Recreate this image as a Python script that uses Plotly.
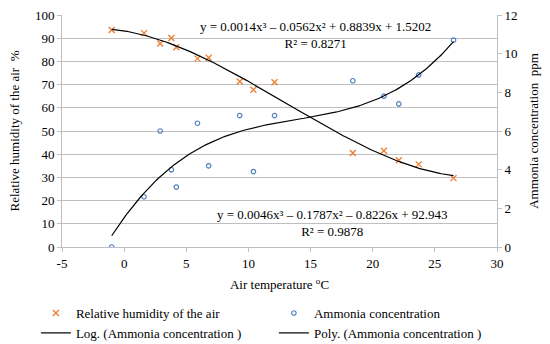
import numpy as np
import plotly.graph_objects as go

# Data
temperature = [-1.0, 1.6, 2.9, 3.8, 4.2, 5.9, 6.8, 9.3, 10.4, 12.1, 18.4, 20.9, 22.1, 23.7, 26.5]
humidity = [93.5, 92.2, 87.7, 90.1, 86.1, 81.2, 81.6, 71.3, 67.8, 71.0, 40.5, 41.5, 37.4, 35.6, 29.7]
ammonia = [0.0, 2.6, 6.0, 4.0, 3.1, 6.4, 4.2, 6.8, 3.9, 6.8, 8.6, 7.8, 7.4, 8.9, 10.7]

x_ticks = [-5, 0, 5, 10, 15, 20, 25, 30]
x_tick_text = ["-5", "0", "5", "10", "15", "20", "25", "30"]
y_left_ticks = [0, 10, 20, 30, 40, 50, 60, 70, 80, 90, 100]
y_right_ticks = [0, 2, 4, 6, 8, 10, 12]

eq_ammonia = "y = 0.0014x³ – 0.0562x² + 0.8839x + 1.5202<br>R² = 0.8271"
eq_humidity = "y = 0.0046x³ – 0.1787x² – 0.8226x + 92.943<br>R² = 0.9878"

FONT = "Times New Roman, Liberation Serif, DejaVu Serif, serif"
ORANGE = "#ED7D31"
BLUE = "#4F81BD"
GRID = "#BFBFBF"

# Trend lines (3rd-order least-squares fits, as in the source chart)
xs = np.linspace(min(temperature), max(temperature), 200)
hum_fit = np.polyval(np.polyfit(temperature, humidity, 3), xs)
amm_fit = np.polyval(np.polyfit(temperature, ammonia, 3), xs)

fig = go.Figure()
fig.add_trace(go.Scatter(
    x=temperature, y=humidity, mode="markers", name="Relative humidity of the air",
    marker=dict(symbol="x-thin", size=6, line=dict(color=ORANGE, width=1.3), color=ORANGE),
))
fig.add_trace(go.Scatter(
    x=temperature, y=ammonia, mode="markers", name="Ammonia concentration",
    yaxis="y2",
    marker=dict(symbol="circle-open", size=4.5, line=dict(color=BLUE, width=1.2), color=BLUE),
))
fig.add_trace(go.Scatter(
    x=xs, y=hum_fit, mode="lines", name="Log. (Ammonia concentration )",
    line=dict(color="black", width=1.2),
))
fig.add_trace(go.Scatter(
    x=xs, y=amm_fit, mode="lines", name="Poly. (Ammonia concentration )",
    yaxis="y2", line=dict(color="black", width=1.2),
))

fig.add_annotation(x=15.4, y=91.5, xref="x", yref="y", text=eq_ammonia, showarrow=False,
                   font=dict(family=FONT, size=13, color="black"), align="center")
fig.add_annotation(x=16.7, y=10.3, xref="x", yref="y", text=eq_humidity, showarrow=False,
                   font=dict(family=FONT, size=13, color="black"), align="center")

fig.update_layout(
    width=550, height=344,
    margin=dict(l=62, r=53, t=15, b=97, autoexpand=False),
    paper_bgcolor="white", plot_bgcolor="white",
    font=dict(family=FONT, size=13, color="black"),
    showlegend=True,
    legend=dict(
        orientation="h", x=-0.06, xanchor="left", y=-0.22, yanchor="top",
        entrywidth=193, entrywidthmode="pixels",
        font=dict(family=FONT, size=13, color="black"),
        tracegroupgap=0, itemwidth=30,
    ),
    xaxis=dict(
        range=[-5, 30], tickvals=x_ticks, ticktext=x_tick_text,
        showgrid=False, zeroline=False,
        showline=True, linecolor=GRID, linewidth=1,
        ticks="outside", ticklen=4, tickcolor=GRID,
        title=dict(text="Air temperature <sup>o</sup>C", standoff=10,
                   font=dict(family=FONT, size=13)),
        tickfont=dict(family=FONT, size=13),
    ),
    yaxis=dict(
        range=[0, 100], tickvals=y_left_ticks,
        showgrid=True, gridcolor=GRID, gridwidth=1, zeroline=False,
        showline=True, linecolor=GRID, linewidth=1,
        ticks="outside", ticklen=4, tickcolor=GRID,
        title=dict(text="Relative humidity of the air  %", standoff=12,
                   font=dict(family=FONT, size=13)),
        tickfont=dict(family=FONT, size=13),
    ),
    yaxis2=dict(
        range=[0, 12], tickvals=y_right_ticks, overlaying="y", side="right",
        showgrid=False, zeroline=False,
        showline=True, linecolor=GRID, linewidth=1,
        ticks="outside", ticklen=4, tickcolor=GRID,
        title=dict(text="Ammonia concentration  ppm", standoff=12,
                   font=dict(family=FONT, size=13)),
        tickfont=dict(family=FONT, size=13),
    ),
)

fig.write_html("out.html", config={"displayModeBar": False},
               post_script="document.body.style.margin='0';")
